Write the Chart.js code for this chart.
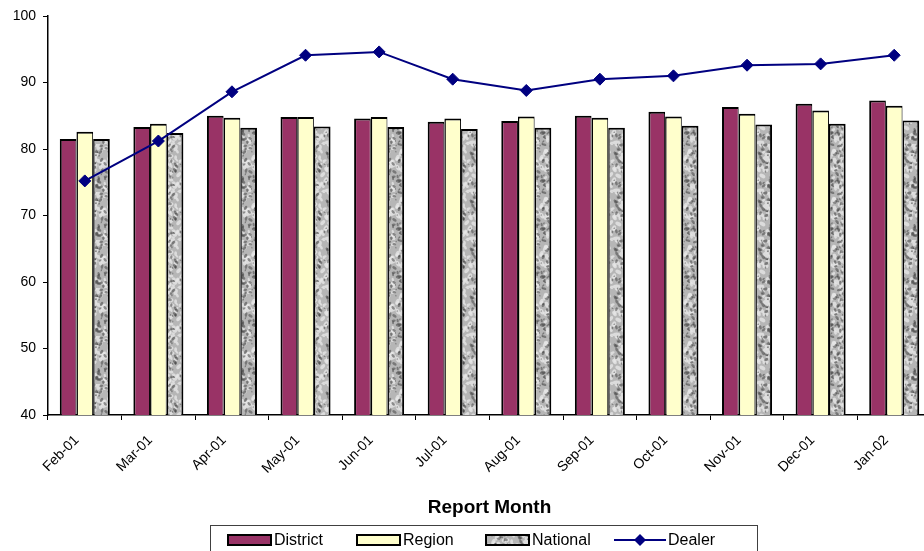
<!DOCTYPE html>
<html>
<head>
<meta charset="utf-8">
<script src="https://cdn.jsdelivr.net/npm/chart.js@4.4.1/dist/chart.umd.min.js"></script>
<style>
  html, body { margin: 0; padding: 0; background: #fff; overflow: hidden; }
  #wrap { width: 940px; height: 551px; }
</style>
</head>
<body>
<div id="wrap"><canvas id="chart" width="940" height="551"></canvas></div>
<script>
// ====== DADOS ======
const months = ['Feb-01', 'Mar-01', 'Apr-01', 'May-01', 'Jun-01', 'Jul-01',
                'Aug-01', 'Sep-01', 'Oct-01', 'Nov-01', 'Dec-01', 'Jan-02'];
const district = [81.5, 83.3, 85.0, 84.8, 84.6, 84.1, 84.2, 85.0, 85.6, 86.3, 86.8, 87.3];
const region   = [82.6, 83.8, 84.7, 84.8, 84.8, 84.6, 84.9, 84.7, 84.9, 85.3, 85.8, 86.5];
const national = [81.5, 82.4, 83.2, 83.4, 83.3, 83.0, 83.2, 83.2, 83.5, 83.7, 83.8, 84.3];
const dealer   = [75.2, 81.2, 88.6, 94.1, 94.6, 90.5, 88.8, 90.5, 91.0, 92.6, 92.8, 94.1];
const yMin = 40, yMax = 100, yStep = 10;

const FONT = '"Liberation Sans", Arial, sans-serif';

// textura "granito" cinza para as barras National
function granitePattern() {
    const size = 48;
    const raw = document.createElement('canvas');
    raw.width = raw.height = size;
    const c = raw.getContext('2d');
    c.fillStyle = '#b6b6b6';
    c.fillRect(0, 0, size, size);
    let seed = 11;
    const rnd = () => { seed = (seed * 16807) % 2147483647; return seed / 2147483647; };
    // manchas claras e escuras, repetidas nas bordas para o padrão emendar
    const blot = (x, y, r, col) => {
        c.fillStyle = col;
        for (let dx = -size; dx <= size; dx += size)
            for (let dy = -size; dy <= size; dy += size) {
                c.beginPath();
                c.ellipse(x + dx, y + dy, r, r * 0.6, rnd() * Math.PI, 0, Math.PI * 2);
                c.fill();
            }
    };
    for (let i = 0; i < 70; i++) blot(rnd() * size, rnd() * size, 1.5 + rnd() * 2.5, 'rgba(232,232,232,0.75)');
    for (let i = 0; i < 110; i++) blot(rnd() * size, rnd() * size, 0.8 + rnd() * 1.6, 'rgba(70,70,70,0.55)');
    const out = document.createElement('canvas');
    out.width = out.height = size;
    const o = out.getContext('2d');
    o.filter = 'blur(0.6px)';
    for (let dx = -1; dx <= 1; dx++)
        for (let dy = -1; dy <= 1; dy++) o.drawImage(raw, dx * size, dy * size);
    return o.createPattern(out, 'repeat');
}

// legenda com moldura, desenhada à mão (entradas de largura fixa)
const legendBox = {
    id: 'legendBox',
    afterDraw(chart) {
        const c = chart.ctx;
        const sets = chart.data.datasets;
        const swatchW = 45, lineW = 52, gap = 2, entryW = 129, cy = 540;
        const area = chart.chartArea;
        const cx = (area.left + area.right) / 2 - 5;
        const total = entryW * sets.length;
        let x = Math.round(cx - total / 2);

        c.save();
        c.font = '16px ' + FONT;
        c.strokeStyle = '#404040';
        c.lineWidth = 1;
        c.strokeRect(x - 17 + 0.5, 525.5, total + 31, 30);

        sets.forEach(ds => {
            let w;
            if (ds.type === 'line') {
                w = lineW;
                c.strokeStyle = ds.borderColor;
                c.lineWidth = 2;
                c.beginPath();
                c.moveTo(x, cy);
                c.lineTo(x + lineW, cy);
                c.stroke();
                const mx = x + lineW / 2, r = ds.pointRadius;
                c.fillStyle = ds.backgroundColor;
                c.beginPath();
                c.moveTo(mx, cy - r);
                c.lineTo(mx + r, cy);
                c.lineTo(mx, cy + r);
                c.lineTo(mx - r, cy);
                c.closePath();
                c.fill();
            } else {
                w = swatchW;
                c.fillStyle = ds.backgroundColor;
                c.fillRect(x, cy - 6, swatchW, 12);
                c.strokeStyle = '#000';
                c.lineWidth = 2;
                c.strokeRect(x + 1, cy - 5, swatchW - 2, 10);
            }
            c.fillStyle = '#000';
            c.textBaseline = 'middle';
            c.textAlign = 'left';
            c.fillText(ds.label, x + w + gap, cy + 1);
            x += entryW;
        });
        c.restore();
    }
};

const tickFont = { family: FONT, size: 14 };

const ctx = document.getElementById('chart').getContext('2d');
new Chart(ctx, {
    data: {
        labels: months,
        datasets: [
            {
                type: 'bar', label: 'District', data: district,
                backgroundColor: '#993366', borderColor: '#000',
                borderWidth: { top: 2, left: 2, right: 1, bottom: 0 }, order: 1
            },
            {
                type: 'bar', label: 'Region', data: region,
                backgroundColor: '#ffffcc', borderColor: '#000',
                borderWidth: { top: 2, left: 1.5, right: 1, bottom: 0 }, order: 1
            },
            {
                type: 'bar', label: 'National', data: national,
                backgroundColor: granitePattern(), borderColor: '#000',
                borderWidth: { top: 2, left: 1.5, right: 2, bottom: 0 }, order: 1
            },
            {
                type: 'line', label: 'Dealer', data: dealer,
                borderColor: '#000080', backgroundColor: '#000080',
                borderWidth: 2, tension: 0,
                pointStyle: 'rectRot', pointRadius: 6, pointBorderWidth: 1,
                order: 0
            }
        ]
    },
    options: {
        responsive: false,
        animation: false,
        devicePixelRatio: 1,
        layout: { padding: { top: 16, right: 9, bottom: 26, left: 0 } },
        datasets: { bar: { categoryPercentage: 0.68, barPercentage: 1 } },
        plugins: { legend: { display: false }, tooltip: { enabled: false } },
        scales: {
            x: {
                grid: { display: true, drawOnChartArea: false, drawTicks: true, tickLength: 5, color: '#000', offset: true },
                border: { color: '#000', width: 1.5 },
                ticks: {
                    font: tickFont, color: '#000', minRotation: 45, maxRotation: 45,
                    padding: 12, labelOffset: -8, autoSkip: false
                },
                title: {
                    display: true, text: 'Report Month', color: '#000',
                    font: { family: FONT, size: 19, weight: 'bold' },
                    padding: { top: 0, bottom: 6 }
                },
                afterFit: s => { s.height = 110; }
            },
            y: {
                min: yMin, max: yMax,
                ticks: { stepSize: yStep, padding: 7, font: tickFont, color: '#000' },
                grid: { drawOnChartArea: false, tickLength: 5, color: '#000' },
                border: { color: '#000', width: 1.5 },
                afterFit: s => { s.width = 48; }
            }
        }
    },
    plugins: [legendBox]
});
</script>
</body>
</html>
